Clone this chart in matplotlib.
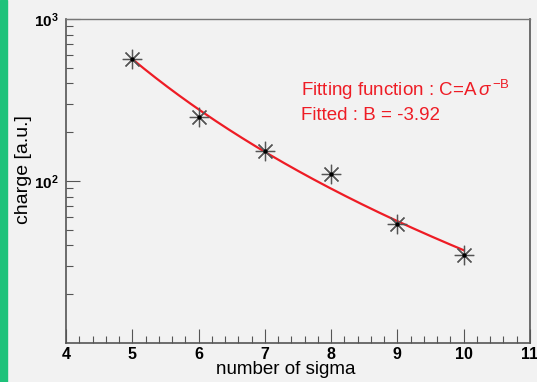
import numpy as np
import matplotlib.pyplot as plt
import matplotlib.ticker as mticker
from matplotlib.patches import Rectangle

# measured charge vs. threshold in units of sigma
n_sigma = [5, 6, 7, 8, 9, 10]
charge = [564, 248, 153, 110, 54.3, 34.9]

# power-law fit C = A * sigma^B
fit_A = 3.11e5
fit_B = -3.92

x_ticks = [4, 5, 6, 7, 8, 9, 10, 11]

bg = "#f2f2f2"
plt.rcParams["font.family"] = ["Liberation Sans", "DejaVu Sans"]
plt.rcParams["mathtext.fontset"] = "custom"
plt.rcParams["mathtext.rm"] = "Liberation Sans"
plt.rcParams["mathtext.bf"] = "Liberation Sans:bold"
plt.rcParams["mathtext.it"] = "Liberation Sans:italic"

fig = plt.figure(figsize=(5.37, 3.82), dpi=100, facecolor=bg)

# green strip on the left edge
fig.patches.append(Rectangle((0, 0), 7 / 537, 1, transform=fig.transFigure,
                             color="#1dc27a", zorder=0))

ax = fig.add_axes([66 / 537, 1 - 343 / 382, 464 / 537, 324 / 382])
ax.set_facecolor(bg)

sig = np.linspace(5, 10, 200)
ax.plot(sig, fit_A * sig ** fit_B, color="#ee1c25", lw=1.6, zorder=2)

ax.plot(n_sigma, charge, ls="none", marker=(8, 2, 0), ms=14, mew=0.9,
        mec="#555555", zorder=3)
ax.plot(n_sigma, charge, ls="none", marker="o", ms=2, color="black", zorder=4)

ax.set_yscale("log")
ax.set_xlim(4, 11)
ax.set_ylim(10, 1000)

ax.set_xticks(x_ticks)
ax.xaxis.set_minor_locator(mticker.MultipleLocator(0.2))
ax.set_yticks([100, 1000])
ax.set_yticklabels([r"$\mathbf{10}^{\mathbf{2}}$", r"$\mathbf{10}^{\mathbf{3}}$"],
                   fontsize=11)
ax.yaxis.set_minor_locator(mticker.LogLocator(subs=np.arange(2, 10)))
ax.yaxis.set_minor_formatter(mticker.NullFormatter())

ax.tick_params(which="both", direction="in", top=False, right=False,
               color="#555555")
ax.tick_params(axis="x", labelsize=11.5, pad=3)
ax.tick_params(axis="y", pad=5)
ax.tick_params(which="major", length=10, width=0.8)
ax.tick_params(which="minor", length=5, width=0.8)
for lab in ax.get_xticklabels():
    lab.set_fontweight("bold")

for side in ["left", "bottom", "right"]:
    ax.spines[side].set_color("#555555")
    ax.spines[side].set_linewidth(1.2)
ax.spines["top"].set_color("#777777")
ax.spines["top"].set_linewidth(1.0)

fig.text(286 / 537, 1 - 370 / 382, "number of sigma", ha="center", va="center",
         fontsize=13.5)
fig.text(23 / 537, 1 - 170 / 382, "charge [a.u.]", ha="center", va="center",
         rotation=90, fontsize=14)

ax.text(301 / 537, 1 - 90 / 382,
        r"Fitting function : C=A$\,\sigma^{\,\mathrm{-B}}$",
        transform=fig.transFigure, color="#ee1c25", fontsize=13.5,
        ha="left", va="center")
ax.text(301 / 537, 1 - 116 / 382, f"Fitted : B = {fit_B:.2f}",
        transform=fig.transFigure, color="#ee1c25", fontsize=13.5,
        ha="left", va="center")

fig.savefig("out.png", dpi=100, facecolor=bg)
